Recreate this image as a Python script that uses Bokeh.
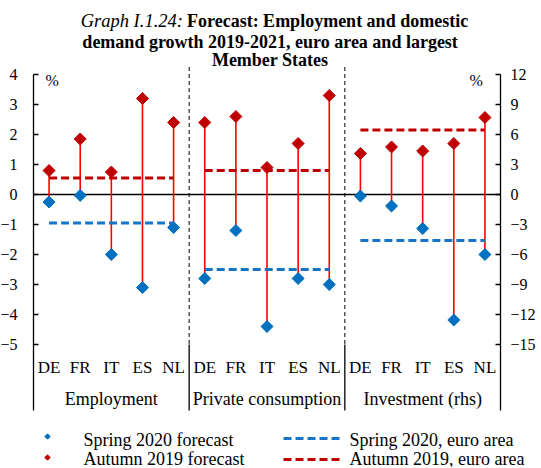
import math
from bokeh.plotting import figure
from bokeh.models import (Range1d, LinearAxis, FixedTicker, ColumnDataSource)
from bokeh.core.properties import value
from bokeh.embed import file_html
from bokeh.resources import INLINE

# ---------------- data ----------------
countries = ["DE", "FR", "IT", "ES", "NL"]
groups = ["Employment", "Private consumption", "Investment (rhs)"]
spring_employment = [-0.25, -0.03, -2.0, -3.1, -1.1]
autumn_employment = [0.8, 1.85, 0.75, 3.2, 2.4]
spring_consumption = [-2.8, -1.2, -4.4, -2.8, -3.0]
autumn_consumption = [2.4, 2.6, 0.9, 1.7, 3.3]
spring_investment = [-0.15, -1.15, -3.4, -12.55, -6.0]
autumn_investment = [4.1, 4.75, 4.35, 5.1, 7.7]
ea_spring = [-0.95, -2.5, -4.6]
ea_autumn = [0.55, 0.8, 6.45]
left_ticks = list(range(-5, 5))
right_ticks = list(range(-15, 13, 3))
legend_marker_labels = ["Spring 2020 forecast", "Autumn 2019 forecast"]
legend_line_labels = ["Spring 2020, euro area", "Autumn 2019, euro area"]

# ---------------- styles ----------------
SERIF = value("Liberation Serif")
BLUE = "#0070C0"
BLUE_DASH = "#1874C6"
RED = "#C00000"
LINK = "#FF0000"

n = len(countries)
x_lo, x_hi = -0.5, len(groups) * n - 0.5       # plot area edges (category boundaries)

p = figure(width=536, height=467, x_range=Range1d(-1.56, 15.656),
           y_range=Range1d(-9.1, 6.467),
           output_backend="svg", toolbar_location=None,
           x_axis_location=None, y_axis_location=None,
           min_border=0, min_border_left=0, min_border_right=0,
           min_border_top=0, min_border_bottom=0,
           outline_line_color=None, background_fill_color="white")
p.extra_y_ranges = {"rhs": Range1d(-27.3, 19.4)}
p.xgrid.visible = False
p.ygrid.visible = False

box_bottom = -7.2

left = LinearAxis(ticker=FixedTicker(ticks=left_ticks), bounds=(box_bottom, 4),
                  fixed_location=x_lo)
right = LinearAxis(y_range_name="rhs", ticker=FixedTicker(ticks=right_ticks),
                   bounds=(3 * box_bottom, 12), fixed_location=x_hi)
for ax, st in ((left, 16), (right, 10)):
    ax.major_tick_in = 5
    ax.major_tick_out = 0
    ax.minor_tick_line_color = None
    ax.axis_line_color = "black"
    ax.axis_line_width = 1.3
    ax.major_tick_line_color = "black"
    ax.major_tick_line_width = 1.3
    ax.major_label_text_font = "Liberation Serif"
    ax.major_label_text_font_size = "16px"
    ax.major_label_text_color = "black"
    ax.major_label_standoff = st
p.add_layout(left, "left")
p.add_layout(right, "right")

# zero line across the plot area
p.segment(x0=[x_lo], x1=[x_hi], y0=[0], y1=[0], line_color="black", line_width=1.3)

# group dividers (dashed in plot, solid in the label box)
div_x = [(g + 1) * n - 0.5 for g in range(len(groups) - 1)]
p.segment(x0=div_x, x1=div_x, y0=[4.25] * len(div_x), y1=[-5] * len(div_x),
          line_color="black", line_width=1, line_dash="4 3")
p.segment(x0=div_x, x1=div_x, y0=[-5] * len(div_x), y1=[box_bottom] * len(div_x),
          line_color="black", line_width=1.3)

series = [(spring_employment, autumn_employment, "default"),
          (spring_consumption, autumn_consumption, "default"),
          (spring_investment, autumn_investment, "rhs")]

for g, (sp, au, rng) in enumerate(series):
    xs = [g * n + i for i in range(n)]
    src = ColumnDataSource(dict(x=xs, spring=sp, autumn=au))
    p.segment(x0="x", y0="autumn", x1="x", y1="spring", source=src,
              y_range_name=rng, line_color=LINK, line_width=1.6)
    ea = ColumnDataSource(dict(x0=[xs[0]], x1=[xs[-1]], s=[ea_spring[g]], a=[ea_autumn[g]]))
    p.segment(x0="x0", x1="x1", y0="s", y1="s", source=ea, y_range_name=rng,
              line_color=BLUE_DASH, line_width=3, line_dash="8 4")
    p.segment(x0="x0", x1="x1", y0="a", y1="a", source=ea, y_range_name=rng,
              line_color=RED, line_width=3, line_dash="8 4")
    p.scatter(x="x", y="autumn", source=src, y_range_name=rng, marker="square",
              angle=math.pi / 4, size=8.5, fill_color=RED, line_color=RED)
    p.scatter(x="x", y="spring", source=src, y_range_name=rng, marker="square",
              angle=math.pi / 4, size=8.5, fill_color=BLUE, line_color=BLUE)

# category labels
cat_src = ColumnDataSource(dict(x=[g * n + i for g in range(len(groups)) for i in range(n)],
                                t=countries * len(groups)))
p.text(x="x", y=-5.77, text="t", source=cat_src, text_font=SERIF, text_font_size="17px",
       text_align="center", text_baseline="alphabetic", text_color="black")
grp_src = ColumnDataSource(dict(x=[g * n + (n - 1) / 2 for g in range(len(groups))], t=groups))
p.text(x="x", y=-6.83, text="t", source=grp_src, text_font=SERIF, text_font_size="18px",
       text_align="center", text_baseline="alphabetic", text_color="black")

# % labels
p.text(x=[0.1], y=[3.8], text=["%"], text_font=SERIF, text_font_size="16px",
       text_align="center", text_baseline="middle", text_color="black")
p.text(x=[13.72], y=[3.8], text=["%"], text_font=SERIF, text_font_size="16px",
       text_align="center", text_baseline="middle", text_color="black")

# title
p.text(x=[4.3], y=[5.767], text=["Graph I.1.24:"], text_font=SERIF, text_font_size="18.5px",
       text_font_style="italic", text_align="right", text_baseline="alphabetic", text_color="black")
p.text(x=[4.43], y=[5.767], text=["Forecast: Employment and domestic"], text_font=SERIF,
       text_font_size="18px", text_font_style="bold", text_align="left",
       text_baseline="alphabetic", text_color="black")
p.text(x=[7.1, 7.1], y=[5.1, 4.467],
       text=["demand growth 2019-2021, euro area and largest", "Member States"],
       text_font=SERIF, text_font_size="18px", text_font_style="bold", text_align="center",
       text_baseline="alphabetic", text_color="black")

# legend (two columns below the chart)
leg_text_y = [-8.167, -8.833]
leg_key_y = [-8.067, -8.767]
leg_line_y = [-8.133, -8.833]
p.scatter(x=[-0.05, -0.05], y=leg_key_y, marker="square", angle=math.pi / 4,
          size=3.8, fill_color=[BLUE, RED], line_color=[BLUE, RED])
p.text(x=[1.106, 1.106], y=leg_text_y, text=legend_marker_labels, text_font=SERIF,
       text_font_size="18px", text_align="left", text_baseline="alphabetic", text_color="black")
p.segment(x0=[7.53, 7.53], x1=[9.425, 9.425], y0=leg_line_y, y1=leg_line_y,
          line_color=[BLUE_DASH, RED], line_width=3, line_dash="8 4")
p.text(x=[9.65, 9.65], y=leg_text_y, text=legend_line_labels, text_font=SERIF,
       text_font_size="18px", text_align="left", text_baseline="alphabetic", text_color="black")

open("out.html", "w").write(file_html(p, INLINE))
